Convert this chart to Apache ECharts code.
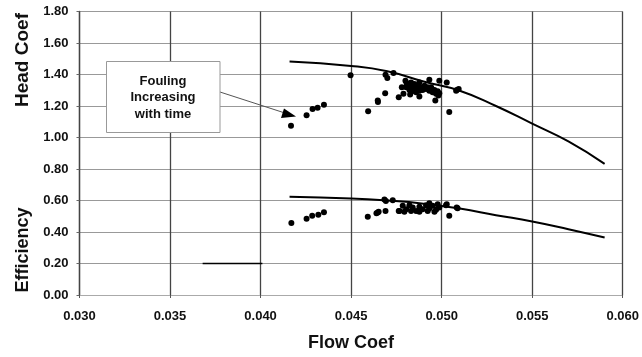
<!DOCTYPE html>
<html>
<head>
<meta charset="utf-8">
<script src="https://cdn.jsdelivr.net/npm/echarts@6/dist/echarts.min.js"></script>
<style>
  html, body { margin: 0; padding: 0; background: #fff; }
  #main { width: 642px; height: 357px; }
</style>
</head>
<body>
<div id="main"></div>
<script>
// axis ticks
var xTicks = [0.030, 0.035, 0.040, 0.045, 0.050, 0.055, 0.060]
var yTicks = [0, 0.2, 0.4, 0.6, 0.8, 1.0, 1.2, 1.4, 1.6, 1.8]

// design curves [flow coef, value]
var headCurve = [
  [0.0416, 1.482], [0.045, 1.454], [0.047, 1.420], [0.049, 1.355], [0.051, 1.297],
  [0.053, 1.200], [0.055, 1.088], [0.057, 0.975], [0.059, 0.833]
]
var effCurve = [
  [0.0416, 0.624], [0.045, 0.613], [0.047, 0.600], [0.049, 0.580], [0.051, 0.549],
  [0.053, 0.507], [0.055, 0.467], [0.057, 0.418], [0.059, 0.365]
]

// measured points
var headPoints = [
  [0.04168, 1.074], [0.04254, 1.141], [0.04287, 1.181], [0.04315, 1.189], [0.0435, 1.208],
  [0.04497, 1.396], [0.04594, 1.166], [0.04648, 1.226], [0.04647, 1.235], [0.04688, 1.281],
  [0.0469, 1.398], [0.0470, 1.377], [0.04734, 1.410], [0.04763, 1.256], [0.0478, 1.319],
  [0.04789, 1.277], [0.048, 1.360], [0.04826, 1.273], [0.04877, 1.260], [0.04932, 1.366],
  [0.04987, 1.360], [0.05028, 1.350], [0.05042, 1.162], [0.04965, 1.235], [0.04982, 1.266],
  [0.05083, 1.302], [0.05094, 1.308], [0.0508, 1.297],
  [0.04807, 1.344], [0.04818, 1.329], [0.04831, 1.350], [0.0484, 1.319], [0.04849, 1.339],
  [0.04859, 1.308], [0.04868, 1.329], [0.04877, 1.350], [0.04886, 1.319], [0.04895, 1.302],
  [0.04905, 1.329], [0.04914, 1.308], [0.04923, 1.319], [0.04932, 1.297], [0.04942, 1.319],
  [0.0495, 1.287], [0.0496, 1.302], [0.04969, 1.277], [0.04978, 1.294], [0.04987, 1.281],
  [0.04822, 1.302], [0.04837, 1.294], [0.04859, 1.287], [0.04877, 1.297], [0.04804, 1.319]
]
var effPoints = [
  [0.0417, 0.457], [0.04254, 0.484], [0.04285, 0.503], [0.04319, 0.509], [0.0435, 0.526],
  [0.04592, 0.497], [0.04647, 0.524], [0.0464, 0.519], [0.04652, 0.528], [0.0469, 0.534],
  [0.04684, 0.607], [0.04692, 0.597], [0.0473, 0.601], [0.04763, 0.534], [0.04767, 0.534],
  [0.04785, 0.566], [0.04804, 0.545], [0.04822, 0.570], [0.0484, 0.555], [0.04859, 0.534],
  [0.04877, 0.561], [0.04895, 0.545], [0.04914, 0.570], [0.04932, 0.549], [0.0495, 0.566],
  [0.04969, 0.541], [0.04987, 0.555], [0.04794, 0.528], [0.04831, 0.534], [0.04877, 0.528],
  [0.04923, 0.534], [0.0496, 0.528], [0.04932, 0.582], [0.04978, 0.576], [0.05028, 0.576],
  [0.05024, 0.570], [0.05042, 0.503], [0.05083, 0.555], [0.05088, 0.551]
]

// stray scan mark near 0.20
var strayMark = [[0.0368, 0.2], [0.0401, 0.2]]

var font = '"Liberation Sans", Arial, sans-serif'

var myChart = echarts.init(document.getElementById('main'))
myChart.setOption({
  animation: false,
  backgroundColor: '#fff',
  grid: {
    left: 79.5,
    right: 18.5,
    top: 11.5,
    bottom: 58.5
  },
  xAxis: {
    type: 'value',
    min: xTicks[0],
    max: xTicks[xTicks.length - 1],
    interval: 0.005,
    name: 'Flow Coef',
    nameLocation: 'middle',
    nameGap: 39,
    nameTextStyle: { fontFamily: font, fontWeight: 'bold', fontSize: 18, color: '#111' },
    axisLine: { show: true, lineStyle: { color: '#aaa', width: 1 } },
    axisTick: { show: true, length: 3, lineStyle: { color: '#555' } },
    axisLabel: {
      margin: 15,
      fontFamily: font, fontWeight: 'bold', fontSize: 13, color: '#111',
      formatter: function (v) { return v.toFixed(3) }
    },
    splitLine: { show: true, lineStyle: { color: '#444', width: 1.3 } }
  },
  yAxis: {
    type: 'value',
    min: yTicks[0],
    max: yTicks[yTicks.length - 1],
    interval: 0.2,
    axisLine: { show: true, lineStyle: { color: '#444', width: 1.3 } },
    axisTick: { show: true, length: 3, lineStyle: { color: '#666' } },
    axisLabel: {
      margin: 11,
      fontFamily: font, fontWeight: 'bold', fontSize: 13, color: '#111',
      formatter: function (v) { return v.toFixed(2) }
    },
    splitLine: { show: true, lineStyle: { color: '#999', width: 1 } }
  },
  graphic: [
    {
      type: 'text', rotation: Math.PI / 2,
      style: { text: 'Head Coef', fontFamily: font, fontWeight: 'bold', fontSize: 19, fill: '#111', align: 'center', verticalAlign: 'middle' },
      x: 23, y: 60
    },
    {
      type: 'text', rotation: Math.PI / 2,
      style: { text: 'Efficiency', fontFamily: font, fontWeight: 'bold', fontSize: 18, fill: '#111', align: 'center', verticalAlign: 'middle' },
      x: 23, y: 250
    },
    {
      type: 'line', z: 10,
      shape: { x1: 220, y1: 92, x2: 288, y2: 114 },
      style: { stroke: '#555', lineWidth: 1 }
    },
    {
      type: 'polygon', z: 10,
      shape: { points: [[296, 116.5], [284, 108.5], [281, 118]] },
      style: { fill: '#000' }
    },
    {
      type: 'rect', z: 10,
      shape: { x: 106.5, y: 61.5, width: 113.5, height: 71 },
      style: { fill: '#fff', stroke: '#999', lineWidth: 1 }
    },
    {
      type: 'text', z: 11, x: 163, y: 97.5,
      style: {
        text: 'Fouling\nIncreasing\nwith time', fontFamily: font, fontWeight: 'bold', fontSize: 13,
        lineHeight: 16.5, fill: '#111', align: 'center', verticalAlign: 'middle'
      }
    }
  ],
  series: [
    {
      name: 'Head design', type: 'line', smooth: true, showSymbol: false,
      data: headCurve, lineStyle: { color: '#000', width: 2 }, z: 3
    },
    {
      name: 'Efficiency design', type: 'line', smooth: true, showSymbol: false,
      data: effCurve, lineStyle: { color: '#000', width: 2 }, z: 3
    },
    {
      name: 'Head', type: 'scatter', symbol: 'circle', symbolSize: 6,
      data: headPoints, itemStyle: { color: '#000', opacity: 1 }, z: 4
    },
    {
      name: 'Efficiency', type: 'scatter', symbol: 'circle', symbolSize: 6,
      data: effPoints, itemStyle: { color: '#000', opacity: 1 }, z: 4
    },
    {
      name: 'mark', type: 'line', showSymbol: false,
      data: strayMark, lineStyle: { color: '#000', width: 1.5 }, z: 3
    }
  ]
})
</script>
</body>
</html>
